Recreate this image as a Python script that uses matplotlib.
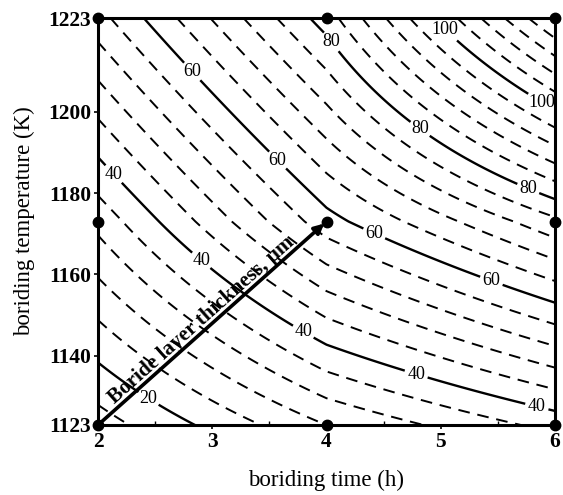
import numpy as np
import matplotlib
matplotlib.use("Agg")
import matplotlib.pyplot as plt

# ---- data (boride layer thickness, um) ----
time_h = [2, 4, 6]
temp_K = [1123, 1173, 1223]
thickness_1123 = [14.1, 28.0, 37.4]
thickness_1173 = [33.3, 58.4, 75.0]
thickness_1223 = [54.5, 82.0, 120.5]
x_ticks = [2, 3, 4, 5, 6]
y_ticks = [1123, 1140, 1160, 1180, 1200, 1223]
level_step = 4
solid_levels = [20, 40, 60, 80, 100]

plt.rcParams["font.family"] = ["Liberation Serif", "DejaVu Serif"]

Z3 = np.array([thickness_1123, thickness_1173, thickness_1223])
# bilinear surface through the 9 measured points (as in the original map)
tf = np.linspace(time_h[0], time_h[-1], 401)
Tf = np.linspace(temp_K[0], temp_K[-1], 401)
rows = np.array([np.interp(tf, time_h, r) for r in Z3])
Z = np.array([np.interp(Tf, temp_K, rows[:, j]) for j in range(len(tf))]).T

fig = plt.figure(figsize=(5.63, 4.95), dpi=100)
W, H = 563, 495
ax = fig.add_axes([98 / W, 1 - 425 / H, (555 - 98) / W, (425 - 18) / H])
ax.set_xlim(time_h[0], time_h[-1])
ax.set_ylim(temp_K[0], temp_K[-1])

all_levels = np.arange(16, 121, level_step)
dash_levels = [l for l in all_levels if l not in solid_levels]

cs_d = ax.contour(tf, Tf, Z, levels=dash_levels, colors="black", linewidths=1.4)
cs_d.set_linestyle((0, (6, 4)))
cs_s = ax.contour(tf, Tf, Z, levels=solid_levels, colors="black", linewidths=1.7)

# label anchor points (layout only)
label_pos = [(2.83, 1210), (3.59, 1188.6), (4.42, 1170.2), (5.43, 1157.4),
             (2.15, 1185), (2.92, 1164), (3.79, 1145.6), (4.77, 1134.1), (5.84, 1127.4),
             (2.43, 1129),
             (4.05, 1217.3), (4.80, 1195), (5.76, 1180.7),
             (5.04, 1220.3), (5.87, 1201.4)]
lbls = ax.clabel(cs_s, manual=label_pos, inline=True, fmt="%d", fontsize=13,
                 inline_spacing=3)
for t in lbls:
    t.set_rotation(0)

# measured points
PT, PK = np.meshgrid(time_h, temp_K)
ax.plot(PT.ravel(), PK.ravel(), "o", color="black", ms=7.5, clip_on=False, zorder=6)

# arrow and its caption
ax.annotate("", xy=(time_h[1] - 0.02, temp_K[1] - 0.5), xytext=(time_h[0], temp_K[0]),
            arrowprops=dict(arrowstyle="-|>", lw=2.6, color="black", mutation_scale=14,
                            shrinkA=0, shrinkB=0), zorder=5)
p0 = ax.transData.transform((time_h[0], temp_K[0]))
p1 = ax.transData.transform((time_h[1], temp_K[1]))
ang = np.degrees(np.arctan2(p1[1] - p0[1], p1[0] - p0[0]))
mid = ((time_h[0] + time_h[1]) / 2 - 0.04, (temp_K[0] + temp_K[1]) / 2 - 1.0)
ax.text(mid[0], mid[1], "Boride layer thickness, \u03bcm", rotation=ang,
        rotation_mode="anchor", ha="center", va="bottom", fontsize=15.3,
        fontweight="bold", zorder=5)

for s in ax.spines.values():
    s.set_linewidth(2.2)
ax.set_xticks(x_ticks)
ax.set_yticks(y_ticks)
ax.set_xticks(np.arange(2.5, 6, 1), minor=True)
ax.tick_params(which="major", direction="out", length=3, width=1.2, labelsize=15.5, pad=2)
ax.tick_params(which="minor", direction="in", length=3, width=1.0)
for t in ax.get_xticklabels() + ax.get_yticklabels():
    t.set_fontweight("bold")
ax.set_xlabel("boriding time (h)", fontsize=16.5, labelpad=13)
ax.set_ylabel("boriding temperature (K)", fontsize=16.5, labelpad=9)

fig.savefig("out.png", dpi=100)
